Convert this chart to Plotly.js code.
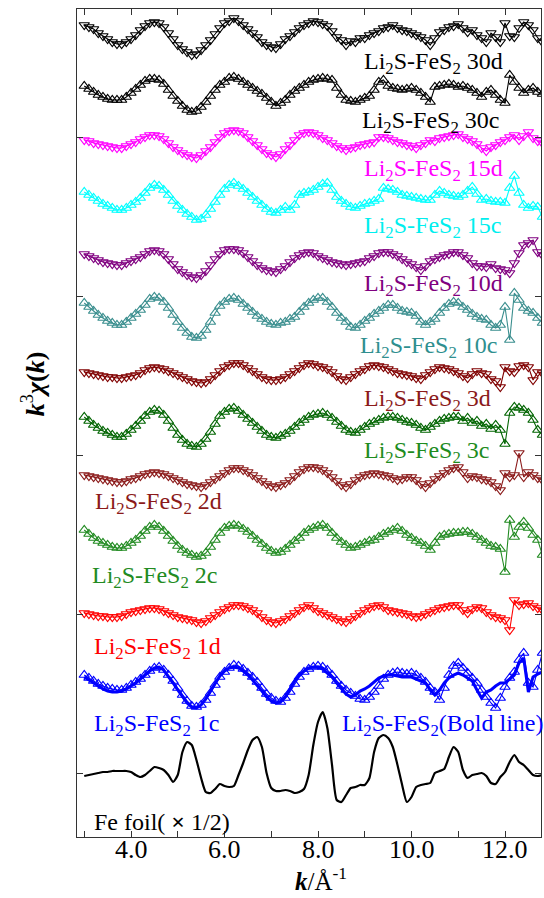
<!DOCTYPE html>
<html>
<head>
<meta charset="utf-8">
<script src="https://cdn.plot.ly/plotly-3.0.1.min.js"></script>
<style>html,body{margin:0;padding:0;background:#fff;}#chart{width:544px;height:898px;}</style>
</head>
<body>
<div id="chart"></div>
<script>
// wavenumber grid (Å^-1)
const k = [3.0,3.1,3.2,3.3,3.4,3.5,3.6,3.7,3.8,3.9,4.0,4.1,4.2,4.3,4.4,4.5,4.6,4.7,4.8,4.9,5.0,5.1,5.2,5.3,5.4,5.5,5.6,5.7,5.8,5.9,6.0,6.1,6.2,6.3,6.4,6.5,6.6,6.7,6.8,6.9,7.0,7.1,7.2,7.3,7.4,7.5,7.6,7.7,7.8,7.9,8.0,8.1,8.2,8.3,8.4,8.5,8.6,8.7,8.8,8.9,9.0,9.1,9.2,9.3,9.4,9.5,9.6,9.7,9.8,9.9,10.0,10.1,10.2,10.3,10.4,10.5,10.6,10.7,10.8,10.9,11.0,11.1,11.2,11.3,11.4,11.5,11.6,11.7,11.8,11.9,12.0,12.1,12.2,12.3,12.4,12.5,12.6,12.7,12.8];

// k^3 chi(k) values (arbitrary units)
const chi30d = [10,8,6,2,-1,-4,-7,-9,-9,-7, -4,0,5,9,12,13,12,8,2,-4, -10,-14,-17,-20,-19,-15,-10,-5,1,7, 12,14,17,14,10,6,2,-2,-7,-10, -12,-13,-9,-4,-1,3,7,10,12,14, 13,11,9,4,-2,-5,-10,-6,-7,-3, -3,0,2,4,7,8,10,7,5,4, 2,0,-2,-5,-10,-3,3,5,8,9, 11,7,3,5,0,-3,-7,2,-2,-7, 12,-1,-2,7,13,10,5,-3,-7];
const chi30c = [6,3,0,-3,-5,-7,-8,-8,-8,-5, -1,3,7,11,13,13,12,8,2,-4, -9,-14,-18,-20,-19,-15,-10,-4,2,7, 10,14,15,13,10,7,4,1,-2,-6, -10,-14,-11,-8,-3,1,4,7,10,12, 13,14,13,12,4,-3,-8,-9,-10,-8, -6,-4,2,10,12,6,4,3,2,3, 4,2,-1,-5,-10,5,6,7,8,7, 5,6,4,2,-1,-5,0,2,-3,-8, -11,17,10,4,-1,2,4,0,-2];
const chi15d = [3,2,0,-1,-2,-3,-4,-5,-5,-3, -1,1,4,6,8,8,7,4,0,-4, -7,-10,-12,-14,-15,-12,-8,-4,1,6, 10,12,13,12,10,6,2,-2,-6,-10, -12,-14,-11,-6,-2,3,8,10,11,10, 8,5,3,0,-3,-5,-7,-5,-4,-2, -1,0,1,6,6,5,3,1,0,-2, -3,-5,-2,0,3,2,5,6,7,8, 9,6,4,2,-1,-5,-8,-4,-2,1, 3,6,8,3,7,11,5,2,0];
const chi15c = [5,2,-1,-4,-7,-9,-11,-13,-13,-11, -8,-5,-1,4,9,12,11,7,2,-4, -9,-13,-17,-20,-23,-22,-18,-12,-5,2, 8,12,14,11,8,4,0,-4,-8,-12, -15,-16,-13,-10,-13,-8,2,4,5,7, 10,13,14,7,0,-4,-7,-10,-11,-9, -7,-6,-4,-2,9,8,7,5,2,1, 0,-1,-2,-3,-3,2,6,4,2,1, 0,2,6,10,3,-3,-2,-4,-5,-5, -6,9,21,4,-8,-11,-9,-10,-20];
const chi10d = [8,6,4,2,0,-1,-2,-3,-3,-1, 1,3,5,8,11,12,11,8,3,-2, -7,-10,-13,-15,-16,-13,-9,-3,3,8, 12,13,13,12,9,5,1,-3,-6,-8, -9,-10,-7,-4,0,4,7,9,10,9, 6,4,2,0,-1,-2,-3,-2,-1,0, 1,4,6,9,10,10,8,6,3,0, -2,-5,-8,-4,1,3,5,7,8,10, 10,7,4,-1,-4,-4,-5,-2,-6,-7, -8,-11,-1,9,17,19,22,10,7];
const chi10c = [12,8,4,0,-3,-6,-8,-10,-10,-7, -3,1,5,10,16,18,17,13,7,0, -7,-13,-18,-22,-23,-21,-15,-7,2,9, 13,16,17,15,11,7,3,-1,-4,-7, -9,-10,-8,-7,-4,-2,3,8,12,15, 17,17,13,8,2,-3,-7,-12,-13,-10, -6,-3,1,4,7,10,10,7,4,3, 2,-1,-7,-10,-7,-4,2,7,11,13, 12,8,5,1,-2,-4,-5,-10,-13,-10, 8,-25,22,15,7,4,2,-3,-8];
const chi3d = [0,-1,-2,-3,-4,-5,-5,-6,-6,-5, -4,-3,-1,2,4,5,4,3,1,-1, -3,-5,-7,-9,-10,-11,-10,-7,-3,1, 5,7,9,9,7,4,1,-2,-5,-7, -8,-8,-7,-5,-2,1,4,7,9,8, 6,5,3,0,-4,-7,-8,-5,-2,1, 3,6,7,6,5,3,1,-1,-2,-3, -4,-6,-7,-3,0,3,5,4,3,1, -1,-4,-6,-2,1,-1,-2,-7,-9,-15, 5,1,0,6,7,5,-8,0,-1];
const chi3c = [8,4,0,-3,-6,-8,-10,-12,-12,-9, -5,-1,4,9,13,15,14,10,4,-3, -10,-15,-19,-21,-22,-19,-14,-7,1,9, 13,16,17,14,10,6,2,-2,-6,-10, -12,-13,-11,-9,-6,-2,2,5,8,10, 11,12,10,7,3,-1,-5,-7,-8,-5, -2,1,3,5,7,8,8,7,5,3, 2,0,-3,-5,-2,1,4,6,7,8, 8,4,7,2,4,-1,1,-4,0,-5, -19,12,18,17,15,12,5,-5,-10];
const chi2d = [2,1,0,-1,-2,-3,-4,-5,-5,-4, -2,-1,1,3,4,5,4,3,1,-1, -3,-5,-7,-8,-9,-10,-8,-5,-2,1, 4,7,9,9,7,5,2,-1,-4,-7, -9,-10,-8,-6,-3,1,5,8,10,10, 9,7,4,0,-4,-8,-10,-7,-3,0, 2,3,4,3,2,1,-1,-3,-2,0, 0,-3,-7,-10,-6,-2,1,4,7,9, 10,5,-1,1,0,-2,-3,-5,-9,-13, 4,0,2,24,0,5,2,-1,-3];
const chi2c = [10,6,2,-1,-3,-5,-7,-8,-8,-6, -3,0,4,9,13,15,13,9,4,-1, -6,-10,-13,-15,-17,-16,-13,-7,0,7, 12,14,15,14,11,8,4,0,-4,-8, -11,-13,-12,-9,-5,-1,2,7,10,12, 14,15,12,7,2,-2,-5,-8,-7,-5, -3,-1,0,3,6,8,10,12,9,5, 2,-1,-3,-6,-10,-3,3,5,6,7, 7,8,8,6,3,0,-3,-6,-7,-9, -32,20,3,13,18,12,5,0,-15];
const chi1d = [0,-1,-2,-3,-3,-4,-4,-4,-3,-1, 1,2,3,4,5,5,4,2,0,-2, -4,-5,-6,-7,-9,-10,-8,-5,-2,1, 4,6,8,8,7,5,3,0,-4,-7, -9,-10,-8,-6,-3,0,3,6,8,5, 2,0,-2,-4,-6,-8,-9,-6,-3,0, 3,5,7,8,6,3,2,1,0,-1, -3,-4,-3,-1,1,3,5,6,7,8, 8,3,0,4,6,5,1,-2,-4,-5, -7,-17,13,8,9,10,7,5,3];
const chi1c = [10,7,4,1,-1,-3,-4,-5,-5,-3, 0,3,6,10,14,17,18,15,10,4, -3,-10,-16,-21,-22,-20,-15,-8,0,8, 13,17,20,19,16,12,8,3,-3,-9, -13,-16,-17,-13,-7,1,8,13,16,18, 19,18,15,10,4,-1,-5,-8,-11,-14, -15,-12,-7,-1,6,10,12,13,12,11, 12,10,7,3,-3,-7,-15,-3,10,19, 22,17,12,7,2,-5,-12,-18,-23,-13, -2,7,13,25,32,2,-2,15,32];
const chiBold = [8,5,2,-1,-4,-6,-7,-7,-6,-4, -1,2,6,10,14,17,18,15,9,2, -5,-12,-18,-22,-23,-20,-14,-6,2,9, 14,17,18,17,14,10,5,0,-6,-12, -16,-18,-17,-12,-4,4,10,14,17,18, 18,16,12,8,2,-4,-9,-12,-10,-6, -4,-1,3,7,9,10,10,9,8,8, 8,6,4,2,-5,-10,-5,2,7,10, 12,10,7,4,-5,-13,-7,-5,-1,2, 2,6,10,22,27,-7,8,11,13];
const chiFe = [-3,-2,-1,0,1,1,2,2,2,2, 1,-2,-4,-2,2,6,5,3,-2,-9, -2,21,31,28,13,-5,-19,-20,-16,-11, -13,-14,-13,-2,10,23,33,36,26,0, -15,-18,-18,-17,-18,-20,-19,-16,-2,28, 51,61,45,8,-27,-29,-22,-15,-14,-12, -12,-5,21,35,38,35,26,8,-12,-29, -24,-14,-12,-11,-10,0,2,4,16,26, 21,3,-5,-2,-1,0,-3,-10,-11,-4, 1,11,18,11,8,3,-2,-3,-2];

// series metadata
const names   = ['Li2S-FeS2 30d','Li2S-FeS2 30c','Li2S-FeS2 15d','Li2S-FeS2 15c','Li2S-FeS2 10d','Li2S-FeS2 10c','Li2S-FeS2 3d','Li2S-FeS2 3c','Li2S-FeS2 2d','Li2S-FeS2 2c','Li2S-FeS2 1d','Li2S-FeS2 1c','Li2S-FeS2 (bold line)','Fe foil (x1/2)'];
const seriesData = [chi30d,chi30c,chi15d,chi15c,chi10d,chi10c,chi3d,chi3c,chi2d,chi2c,chi1d,chi1c,chiBold,chiFe];
const offsets = [738,681,630,576,511,458,401,348,296,233,160,88,88,0];
const labels = ['Li<sub>2</sub>S-FeS<sub>2</sub> 30d','Li<sub>2</sub>S-FeS<sub>2</sub> 30c','Li<sub>2</sub>S-FeS<sub>2</sub> 15d','Li<sub>2</sub>S-FeS<sub>2</sub> 15c','Li<sub>2</sub>S-FeS<sub>2</sub> 10d','Li<sub>2</sub>S-FeS<sub>2</sub> 10c','Li<sub>2</sub>S-FeS<sub>2</sub> 3d','Li<sub>2</sub>S-FeS<sub>2</sub> 3c','Li<sub>2</sub>S-FeS<sub>2</sub> 2d','Li<sub>2</sub>S-FeS<sub>2</sub> 2c','Li<sub>2</sub>S-FeS<sub>2</sub> 1d','Li<sub>2</sub>S-FeS<sub>2</sub> 1c','Li<sub>2</sub>S-FeS<sub>2</sub>(Bold line)','Fe foil(<b> ×</b> 1/2)'];
const labelK = [8.94,8.90,8.94,8.94,8.94,8.86,8.94,8.94,3.19,3.12,3.17,3.17,8.47,3.17];
const labelY = [710,651,603,546,488,426,373,321,270,196,125,48,48,-49];
const yTicks = [0,159,318,477,636];
const xTicks = [3,4,5,6,7,8,9,10,11,12];
const xLabelVals = [4,6,8,10,12];
const xLabelText = ['4.0','6.0','8.0','10.0','12.0'];

// styles
const colors = ['#000000','#000000','#FF00FF','#00FFFF','#800080','#3A8E8E','#800000','#006400','#8B1A1A','#228B22','#FF0000','#0000FF','#0000FF','#000000'];
const labelColors = ['#000000','#000000','#FF00FF','#00EEEE','#800080','#2F8F8F','#8B1A1A','#1E8C1E','#8B1A1A','#228B22','#FF0000','#0000FF','#0000FF','#000000'];
const symbols = ['triangle-down-open','triangle-up-open','triangle-down-open','triangle-up-open','triangle-down-open','triangle-up-open','triangle-down-open','triangle-up-open','triangle-down-open','triangle-up-open','triangle-down-open','triangle-up-open',null,null];

const FONT = 'Times New Roman, Liberation Serif, DejaVu Serif, serif';

const traces = seriesData.map((arr, i) => {
  const y = arr.map(v => v + offsets[i]);
  const t = {x: k, y: y, name: names[i], type: 'scatter', hoverinfo: 'skip'};
  if (symbols[i]) {
    t.mode = 'lines+markers';
    t.line = {color: colors[i], width: 1.1};
    t.marker = {symbol: symbols[i], size: 9, color: colors[i], line: {width: 1.2, color: colors[i]}};
  } else if (i === seriesData.length - 2) {
    t.mode = 'lines';
    t.line = {color: colors[i], width: 3};
  } else {
    t.mode = 'lines';
    t.line = {color: colors[i], width: 2.2, shape: 'spline', smoothing: 0.6};
  }
  return t;
});

const annotations = labels.map((txt, i) => ({
  x: labelK[i], y: labelY[i], xref: 'x', yref: 'y', text: txt, showarrow: false,
  xanchor: 'left', yanchor: 'middle', font: {family: FONT, size: 24, color: labelColors[i]}
}));
// x tick labels
xLabelVals.forEach((v, i) => annotations.push({
  x: v, y: -0.0145, xref: 'x', yref: 'paper', text: xLabelText[i], showarrow: false,
  xanchor: 'center', yanchor: 'middle', font: {family: FONT, size: 26, color: '#000'}
}));
// axis titles
annotations.push({
  x: -0.095, y: 0.548, xref: 'paper', yref: 'paper', showarrow: false, textangle: -90,
  xanchor: 'center', yanchor: 'middle',
  text: '<b><i>k</i></b><sup>3</sup><b><i>χ</i>(<i>k</i>)</b>',
  font: {family: FONT, size: 26, color: '#000'}
});
annotations.push({
  x: 0.525, y: -0.0505, xref: 'paper', yref: 'paper', showarrow: false,
  xanchor: 'center', yanchor: 'middle',
  text: '<b><i>k</i></b>/Å<sup>-1</sup>',
  font: {family: FONT, size: 25, color: '#000'}
});

const layout = {
  width: 544, height: 898,
  margin: {l: 77, r: 3, t: 9, b: 61},
  paper_bgcolor: '#fff', plot_bgcolor: '#fff',
  showlegend: false,
  font: {family: FONT, color: '#000'},
  xaxis: {
    range: [2.845, 12.77], tickmode: 'array', tickvals: xTicks, showticklabels: false,
    ticks: 'inside', ticklen: 6, tickwidth: 1, tickcolor: '#333',
    showline: true, linecolor: '#333', linewidth: 1.3, mirror: 'ticks',
    showgrid: false, zeroline: false
  },
  yaxis: {
    range: [-64, 764], tickmode: 'array', tickvals: yTicks, showticklabels: false,
    ticks: 'inside', ticklen: 6, tickwidth: 1, tickcolor: '#333',
    showline: true, linecolor: '#333', linewidth: 1.3, mirror: 'ticks',
    showgrid: false, zeroline: false
  },
  annotations: annotations
};

Plotly.newPlot('chart', traces, layout, {staticPlot: true, displayModeBar: false});
</script>
</body>
</html>
